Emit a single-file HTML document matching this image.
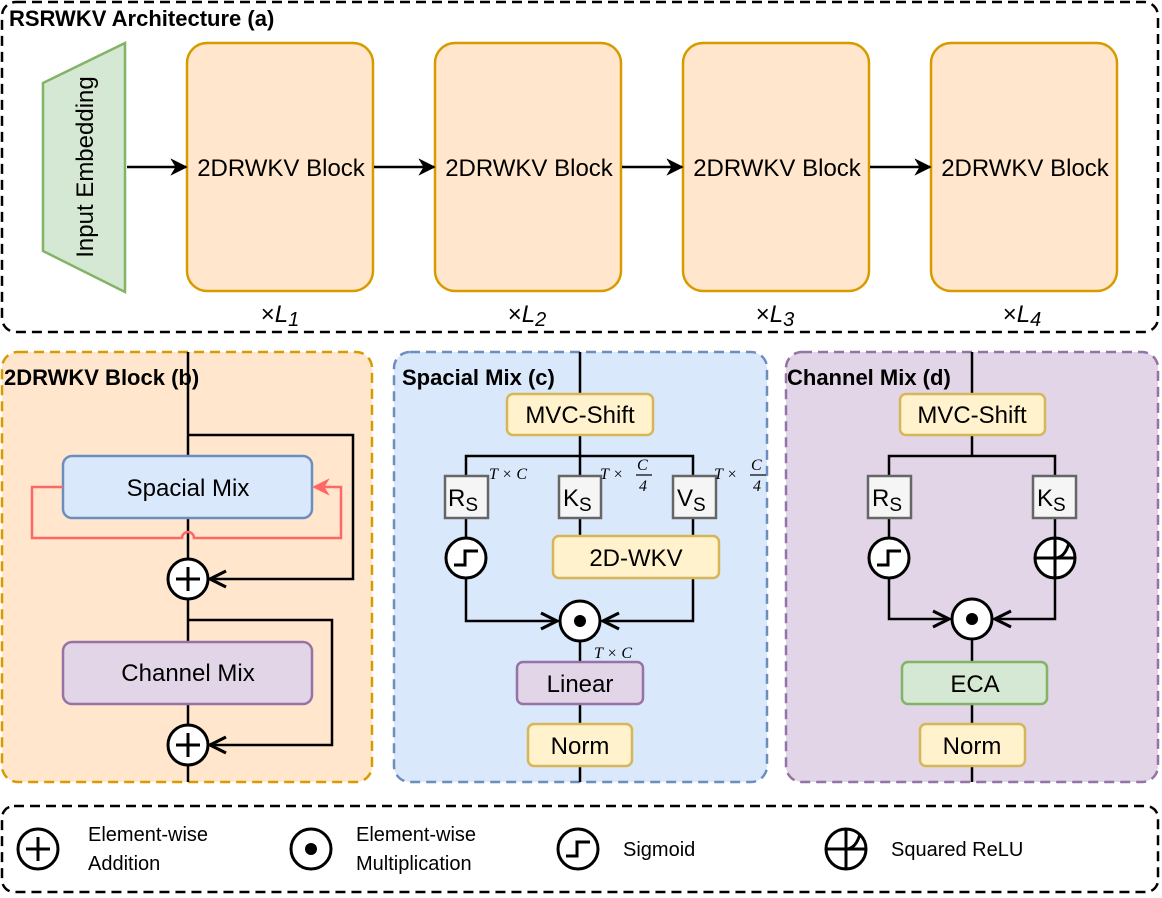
<!DOCTYPE html>
<html><head><meta charset="utf-8"><style>
html,body{margin:0;padding:0;background:#fff}
svg{display:block}
text{font-family:"Liberation Sans",sans-serif;fill:#000}
text.t,.t text{font-size:24px}
text.l{font-size:20px}
text.b{font-weight:bold;font-size:22px}
.m text{font-family:"Liberation Serif",serif;font-style:italic;font-size:16px}
</style></head><body>
<svg width="1162" height="898" viewBox="0 0 1162 898" xmlns="http://www.w3.org/2000/svg">
<defs>
<marker id="ar" viewBox="0 0 10 10" refX="9" refY="5" markerWidth="7" markerHeight="7" orient="auto"><path d="M0,0 L10,5 L0,10 L3,5 z" fill="#000"/></marker>
<marker id="oa" viewBox="0 0 10 10" refX="9" refY="5" markerWidth="8" markerHeight="8" orient="auto"><path d="M1,1 L9,5 L1,9" fill="none" stroke="#000" stroke-width="1.6"/></marker>
<marker id="ra" viewBox="0 0 10 10" refX="9" refY="5" markerWidth="7" markerHeight="7" orient="auto"><path d="M0,0 L10,5 L0,10 L3,5 z" fill="#ff6666"/></marker>
<g id="plus"><circle r="20" fill="#fff" stroke="#000" stroke-width="3"/><path d="M-12,0H12M0,-12V12" stroke="#000" stroke-width="3"/></g>
<g id="dot"><circle r="20" fill="#fff" stroke="#000" stroke-width="3"/><circle r="6" fill="#000"/></g>
<g id="sig"><circle r="20" fill="#fff" stroke="#000" stroke-width="3"/><path d="M-12,7H-1V-7H12" fill="none" stroke="#000" stroke-width="3"/></g>
<g id="sq"><circle r="20" fill="#fff" stroke="#000" stroke-width="3"/><path d="M-20,0H20M0,-20V20M0,0C8,0 12,-8 14,-15" fill="none" stroke="#000" stroke-width="3"/></g>
</defs>

<!-- Panel a -->
<rect x="2" y="2" width="1156" height="330" rx="14" fill="none" stroke="#000" stroke-width="2.5" stroke-dasharray="10,6"/>
<text x="9" y="26" class="b">RSRWKV Architecture (a)</text>
<polygon points="43,83 125,43 125,292 43,251" fill="#d5e8d4" stroke="#82b366" stroke-width="2.5"/>
<text class="t" transform="translate(93,167) rotate(-90)" text-anchor="middle">Input Embedding</text>
<g fill="#ffe6cc" stroke="#d79b00" stroke-width="2.5">
<rect x="187" y="43" width="186" height="248" rx="20"/>
<rect x="435" y="43" width="186" height="248" rx="20"/>
<rect x="683" y="43" width="186" height="248" rx="20"/>
<rect x="931" y="43" width="186" height="248" rx="20"/>
</g>
<g class="t" text-anchor="middle">
<text x="281" y="176">2DRWKV Block</text><text x="529" y="176">2DRWKV Block</text>
<text x="777" y="176">2DRWKV Block</text><text x="1025" y="176">2DRWKV Block</text>
</g>
<g stroke="#000" stroke-width="2.5" marker-end="url(#ar)">
<line x1="127" y1="167" x2="186" y2="167"/><line x1="374" y1="167" x2="434" y2="167"/>
<line x1="622" y1="167" x2="682" y2="167"/><line x1="870" y1="167" x2="930" y2="167"/>
</g>
<g class="t" text-anchor="middle">
<text x="280" y="322">×<tspan font-style="italic">L</tspan><tspan font-style="italic" font-size="20" dy="4">1</tspan></text>
<text x="527" y="322">×<tspan font-style="italic">L</tspan><tspan font-style="italic" font-size="20" dy="4">2</tspan></text>
<text x="775" y="322">×<tspan font-style="italic">L</tspan><tspan font-style="italic" font-size="20" dy="4">3</tspan></text>
<text x="1022" y="322">×<tspan font-style="italic">L</tspan><tspan font-style="italic" font-size="20" dy="4">4</tspan></text>
</g>

<!-- Panel b -->
<rect x="2" y="352" width="370" height="430" rx="16" fill="#ffe6cc" stroke="#d79b00" stroke-width="2.5" stroke-dasharray="10,6"/>
<line x1="188" y1="352" x2="188" y2="782" stroke="#000" stroke-width="2.5"/>
<text x="4" y="385" class="b">2DRWKV Block (b)</text>
<polyline points="188,435 353,435 353,579 210,579" fill="none" stroke="#000" stroke-width="2.5" marker-end="url(#oa)"/>
<polyline points="188,620 332,620 332,745 210,745" fill="none" stroke="#000" stroke-width="2.5" marker-end="url(#oa)"/>
<rect x="63" y="456" width="249" height="62" rx="9" fill="#dae8fc" stroke="#6c8ebf" stroke-width="2.5"/>
<text x="188" y="496" class="t" text-anchor="middle">Spacial Mix</text>
<path d="M63,487H32V538H182A6,6 0 0 1 194,538H341V487H314" fill="none" stroke="#ff6666" stroke-width="2.5" marker-end="url(#ra)"/>
<rect x="63" y="642" width="249" height="62" rx="9" fill="#e1d5e7" stroke="#9673a6" stroke-width="2.5"/>
<text x="188" y="681" class="t" text-anchor="middle">Channel Mix</text>
<use href="#plus" x="188" y="579"/>
<use href="#plus" x="188" y="745"/>

<!-- Panel c -->
<rect x="394" y="352" width="373" height="430" rx="16" fill="#dae8fc" stroke="#6c8ebf" stroke-width="2.5" stroke-dasharray="10,6"/>
<text x="402" y="385" class="b">Spacial Mix (c)</text>
<g stroke="#000" stroke-width="2.5" fill="none">
<line x1="580" y1="352" x2="580" y2="536"/>
<line x1="580" y1="642" x2="580" y2="782"/>
<polyline points="466,476 466,456 693,456 693,476"/>
<line x1="466" y1="518" x2="466" y2="540"/>
<polyline points="466,578 466,621 557,621" marker-end="url(#oa)"/>
<polyline points="693,578 693,621 603,621" marker-end="url(#oa)"/>
<line x1="693" y1="518" x2="693" y2="536"/>
</g>
<rect x="507" y="394" width="146" height="41" rx="6" fill="#fff2cc" stroke="#d6b656" stroke-width="2.5"/>
<text x="580" y="423" class="t" text-anchor="middle">MVC-Shift</text>
<g fill="#f5f5f5" stroke="#666" stroke-width="2.5">
<rect x="445" y="476" width="43" height="42"/><rect x="559" y="476" width="42" height="42"/><rect x="673" y="476" width="43" height="42"/>
</g>
<g class="t"><text x="448" y="506">R<tspan font-size="19" dy="5">S</tspan></text>
<text x="563" y="506">K<tspan font-size="19" dy="5">S</tspan></text>
<text x="677" y="506">V<tspan font-size="19" dy="5">S</tspan></text></g>
<rect x="553" y="536" width="166" height="42" rx="6" fill="#fff2cc" stroke="#d6b656" stroke-width="2.5"/>
<text x="636" y="566" class="t" text-anchor="middle">2D-WKV</text>
<use href="#sig" x="466" y="558"/>
<use href="#dot" x="580" y="621"/>
<rect x="517" y="662" width="126" height="42" rx="6" fill="#e1d5e7" stroke="#9673a6" stroke-width="2.5"/>
<text x="580" y="692" class="t" text-anchor="middle">Linear</text>
<rect x="528" y="724" width="104" height="42" rx="6" fill="#fff2cc" stroke="#d6b656" stroke-width="2.5"/>
<text x="580" y="754" class="t" text-anchor="middle">Norm</text>
<g class="m">
<text x="489" y="479">T × C</text>
<text x="600" y="479">T ×</text><text x="637" y="470">C</text><text x="639" y="491" font-style="normal">4</text>
<text x="714" y="479">T ×</text><text x="751" y="470">C</text><text x="753" y="491" font-style="normal">4</text>
<text x="594" y="658">T × C</text>
</g>
<g stroke="#000" stroke-width="1.2"><line x1="636" y1="475" x2="652" y2="475"/><line x1="750" y1="475" x2="766" y2="475"/></g>

<!-- Panel d -->
<rect x="786" y="352" width="372" height="430" rx="16" fill="#e1d5e7" stroke="#9673a6" stroke-width="2.5" stroke-dasharray="10,6"/>
<text x="787" y="385" class="b">Channel Mix (d)</text>
<g stroke="#000" stroke-width="2.5" fill="none">
<line x1="972" y1="352" x2="972" y2="456"/>
<line x1="972" y1="640" x2="972" y2="782"/>
<polyline points="889,476 889,456 1055,456 1055,476"/>
<line x1="889" y1="518" x2="889" y2="540"/><line x1="1055" y1="518" x2="1055" y2="540"/>
<polyline points="889,578 889,619 949,619" marker-end="url(#oa)"/>
<polyline points="1055,578 1055,619 995,619" marker-end="url(#oa)"/>
</g>
<rect x="900" y="394" width="145" height="41" rx="6" fill="#fff2cc" stroke="#d6b656" stroke-width="2.5"/>
<text x="972" y="423" class="t" text-anchor="middle">MVC-Shift</text>
<g fill="#f5f5f5" stroke="#666" stroke-width="2.5">
<rect x="868" y="476" width="43" height="42"/><rect x="1033" y="476" width="43" height="42"/>
</g>
<g class="t"><text x="872" y="506">R<tspan font-size="19" dy="5">S</tspan></text>
<text x="1037" y="506">K<tspan font-size="19" dy="5">S</tspan></text></g>
<use href="#sig" x="889" y="558"/>
<use href="#sq" x="1055" y="558"/>
<use href="#dot" x="972" y="619"/>
<rect x="902" y="662" width="145" height="42" rx="6" fill="#d5e8d4" stroke="#82b366" stroke-width="2.5"/>
<text x="975" y="692" class="t" text-anchor="middle">ECA</text>
<rect x="920" y="724" width="105" height="42" rx="6" fill="#fff2cc" stroke="#d6b656" stroke-width="2.5"/>
<text x="972" y="754" class="t" text-anchor="middle">Norm</text>

<!-- Legend -->
<rect x="2" y="806" width="1156" height="86" rx="12" fill="none" stroke="#000" stroke-width="2.5" stroke-dasharray="10,6"/>
<use href="#plus" x="38" y="849"/>
<text x="88" y="841" class="l">Element-wise</text><text x="88" y="870" class="l">Addition</text>
<use href="#dot" x="311" y="849"/>
<text x="356" y="841" class="l">Element-wise</text><text x="356" y="870" class="l">Multiplication</text>
<use href="#sig" x="578" y="849"/>
<text x="623" y="856" class="l">Sigmoid</text>
<use href="#sq" x="846" y="849"/>
<text x="891" y="856" class="l">Squared ReLU</text>
</svg>
</body></html>
